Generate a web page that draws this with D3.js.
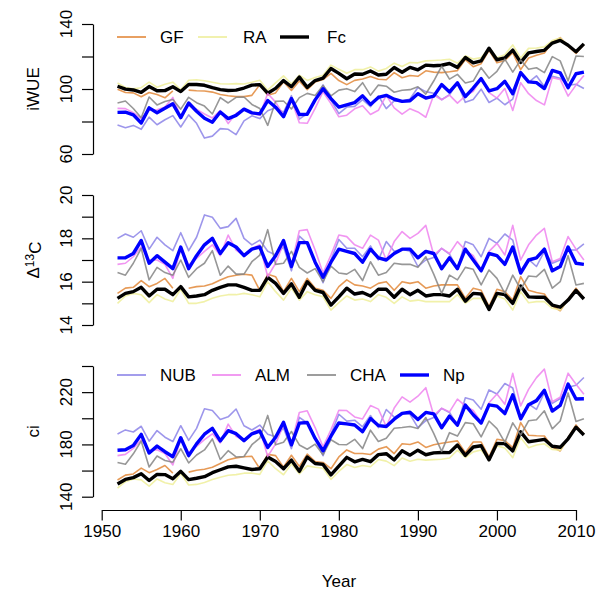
<!DOCTYPE html>
<html>
<head>
<meta charset="utf-8">
<script src="https://cdnjs.cloudflare.com/ajax/libs/d3/7.8.5/d3.min.js"></script>
<style>
  body { margin: 0; background: #fff; }
  text { font-family: "Liberation Sans", Arial, Helvetica, sans-serif; fill: #000; }
</style>
</head>
<body>
<div id="chart"></div>
<script>
// years 1952..2011
const years = d3.range(1952, 2012);

// --- iWUE ---
const iwueGF = [99.8,97.8,97.6,95.2,97.8,96.6,94.6,98.8,null,99.3,98.9,98.8,98.1,96.6,95.8,95.3,95.3,96.1,102.7,96.2,97.6,104.5,99.1,104.9,99.6,104.3,105.8,109.6,105.2,102.7,105.3,106.2,107.7,106.0,105.7,110.1,106.9,108.3,107.8,111.2,110.4,110.1,110.6,111.3,118.1,113.7,115.6,123.8,116.1,117.6,122.3,111.9,119.1,120.8,122.2,128.6,131.6,126.4,121.9,127.4];
const iwueRA = [103.7,100.9,100.1,100.8,104.2,101.1,102.9,104.2,99.5,105.4,105.7,105.1,104.1,103.2,103.1,103.3,103.1,104.1,105.4,99.3,103.8,108.1,103.2,108.5,105.3,107.1,108.5,114.7,112.1,109.7,111.9,111.9,113.6,111.0,112.6,115.9,113.8,116.3,116.1,117.3,117.5,117.8,118.3,115.8,120.4,118.4,119.3,125.4,119.2,121.1,127.1,119.1,125.0,125.2,125.9,129.8,131.3,126.9,122.9,127.4];
const iwueFc = [101.7,99.9,99.4,97.9,101.5,98.9,99.0,101.4,98.4,102.8,102.8,102.3,100.8,99.6,99.1,99.3,100.6,102.4,102.7,97.4,100.4,105.2,101.4,107.3,101.0,105.2,106.7,112.6,109.6,106.3,109.2,109.1,111.1,108.6,109.1,113.2,110.3,113.3,111.8,114.7,114.3,114.6,115.7,113.3,119.4,116.1,117.3,125.1,118.0,119.1,123.9,116.4,122.2,123.1,123.8,128.3,129.9,126.9,122.9,127.8];
const iwueNUB = [77.8,76.2,77.6,75.2,82.7,78.0,81.1,83.6,76.6,84.1,78.9,69.8,71.0,75.6,75.2,71.9,80.4,83.5,81.8,86.6,88.5,85.7,95.9,81.5,84.8,93.7,102.5,93.2,84.8,88.9,89.3,93.4,89.1,95.7,87.9,92.7,92.4,93.8,100.9,98.4,97.4,93.4,96.5,103.8,91.8,93.6,99.9,91.7,94.4,90.3,93.8,109.5,104.1,108.1,101.4,107.8,106.6,102.3,102.9,100.3];
const iwueALM = [88.1,87.9,85.4,81.7,87.1,87.2,88.9,94.8,82.9,89.9,87.5,84.6,82.2,86.7,78.7,85.0,87.6,84.9,83.8,97.2,91.9,84.1,93.4,79.2,78.9,88.1,98.3,91.0,82.9,83.9,87.8,89.7,84.3,86.9,96.1,88.4,84.5,87.9,85.9,82.6,96.3,93.4,96.2,91.3,95.7,98.6,106.1,97.8,94.4,100.3,86.8,103.9,97.1,92.9,90.2,107.0,105.9,95.6,102.4,108.3];
const iwueCHA = [91.4,92.6,88.0,82.3,95.1,90.2,92.3,93.5,87.6,94.9,91.6,89.5,84.6,94.7,91.4,94.9,95.1,90.5,88.0,77.6,92.4,92.6,87.7,94.7,97.3,96.0,102.1,95.8,99.3,100.2,98.4,103.9,96.1,102.4,101.7,98.0,99.2,99.6,101.4,96.9,104.9,114.0,106.1,109.0,103.7,104.9,113.1,106.6,110.9,118.4,110.4,117.9,112.1,113.1,110.1,119.9,117.3,105.0,120.3,120.0];
const iwueNp = [85.6,85.7,84.1,79.1,88.4,85.4,88.1,90.9,82.4,91.4,86.3,82.0,79.6,85.8,81.8,83.8,87.6,85.3,84.7,92.9,88.8,82.9,94.1,84.3,84.5,93.3,100.2,94.1,88.9,90.3,91.6,95.8,90.5,94.8,96.1,93.7,92.4,92.8,97.1,94.4,95.6,102.7,98.2,103.8,95.3,100.6,106.4,98.8,100.2,104.7,97.1,110.1,104.4,103.9,100.3,111.4,109.9,100.8,109.4,110.4];

// --- Delta 13C ---
const d13GF = [15.46,15.7,15.74,16.05,15.77,15.92,16.15,15.7,null,15.7,15.77,15.8,15.9,16.08,16.23,16.3,16.34,16.3,15.6,16.34,16.23,15.54,16.15,15.54,16.15,15.7,15.6,15.23,15.77,16.08,15.85,15.8,15.7,15.92,16.0,15.6,16.0,15.92,16.0,15.7,15.8,15.85,15.85,15.85,15.23,15.7,15.6,14.85,15.65,15.54,15.15,16.23,15.6,15.5,15.43,14.88,14.66,15.2,15.7,15.23];
const d13RA = [15.0,15.34,15.46,15.4,15.03,15.4,15.2,15.08,15.65,15.0,15.0,15.08,15.23,15.34,15.4,15.4,15.46,15.4,15.3,16.0,15.54,15.15,15.7,15.15,15.54,15.4,15.3,14.69,15.03,15.34,15.15,15.2,15.08,15.4,15.28,15.0,15.3,15.1,15.15,15.08,15.08,15.08,15.08,15.4,15.0,15.23,15.23,14.69,15.34,15.2,14.69,15.54,15.03,15.08,15.08,14.77,14.69,15.15,15.6,15.23];
const d13Fc = [15.23,15.46,15.54,15.74,15.34,15.65,15.65,15.4,15.77,15.3,15.34,15.4,15.6,15.74,15.85,15.85,15.74,15.6,15.6,16.2,15.92,15.46,15.9,15.28,16.0,15.6,15.5,14.92,15.3,15.7,15.43,15.5,15.34,15.65,15.65,15.28,15.65,15.4,15.6,15.34,15.4,15.4,15.34,15.65,15.1,15.46,15.43,14.72,15.46,15.4,15.0,15.8,15.3,15.28,15.28,14.92,14.82,15.15,15.6,15.2];
const d13NUB = [18.0,18.2,18.05,18.35,17.5,18.05,17.7,17.43,18.26,17.43,18.05,19.08,18.97,18.46,18.54,18.92,18.0,17.7,17.92,17.4,17.23,17.6,16.5,18.1,17.77,16.85,15.95,17.0,17.95,17.54,17.54,17.15,17.65,17.0,17.85,17.4,17.5,17.4,16.7,17.0,17.12,17.54,17.27,16.6,17.85,17.7,17.15,18.0,17.77,18.2,17.92,16.46,17.03,16.7,17.4,16.85,17.0,17.46,17.46,17.74];
const d13ALM = [16.8,16.85,17.15,17.6,17.0,17.0,16.8,16.15,17.54,16.77,17.07,17.4,17.7,17.2,18.15,17.46,17.2,17.54,17.7,16.23,16.85,17.77,16.77,18.35,18.4,17.46,16.4,17.23,18.15,18.08,17.7,17.54,18.15,17.92,17.0,17.85,18.31,18.0,18.23,18.6,17.23,17.54,17.3,17.85,17.46,17.2,16.54,17.4,17.77,17.23,18.6,17.0,17.7,18.15,18.46,16.92,17.07,18.08,17.5,17.0];
const d13CHA = [16.42,16.3,16.85,17.54,16.08,16.66,16.42,16.3,17.0,16.2,16.6,16.85,17.43,16.3,16.72,16.35,16.35,16.92,17.23,18.4,16.8,16.85,17.4,16.66,16.4,16.6,16.0,16.72,16.4,16.35,16.57,16.05,16.92,16.3,16.42,16.85,16.8,16.8,16.66,17.15,16.35,15.46,16.3,16.08,16.66,16.57,15.85,16.54,16.15,15.46,16.3,15.65,16.26,16.23,16.57,15.7,16.0,17.2,15.85,15.92];
const d13Np = [17.1,17.1,17.3,17.9,16.85,17.2,16.9,16.6,17.6,16.6,17.2,17.7,18.0,17.3,17.8,17.6,17.2,17.5,17.6,16.7,17.2,17.9,16.7,17.8,17.8,16.9,16.2,16.9,17.5,17.4,17.3,16.9,17.5,17.1,17.0,17.3,17.5,17.5,17.1,17.4,17.3,16.6,17.1,16.6,17.5,17.0,16.5,17.3,17.2,16.8,17.6,16.4,17.0,17.1,17.5,16.5,16.7,17.6,16.85,16.8];

// --- ci ---
const ciGF = [152.8,156.5,157.4,161.9,158.4,160.8,163.9,158.0,null,158.8,160.2,161.0,162.6,165.4,168.2,169.7,170.6,170.9,161.4,172.4,171.4,162.5,171.7,163.2,172.6,166.9,166.2,161.4,170.4,175.8,173.0,173.1,172.3,176.4,178.3,173.0,180.5,179.9,181.9,177.7,179.8,180.9,181.8,182.7,173.7,181.8,181.8,170.3,183.9,182.9,177.5,196.7,187.0,186.6,186.4,178.0,175.0,185.1,194.9,187.7];
const ciRA = [146.5,151.5,153.5,152.9,148.1,153.6,150.7,149.3,157.7,148.9,149.4,150.8,153.1,154.9,156.4,156.9,158.0,158.0,157.1,167.5,161.4,156.8,165.1,157.5,163.6,162.5,161.8,153.3,159.3,164.6,162.4,163.9,162.9,168.4,167.2,163.8,169.6,167.1,168.6,168.0,168.4,168.7,169.6,175.6,170.0,174.3,175.8,167.7,178.9,177.3,169.9,185.3,177.5,179.5,180.5,176.1,175.5,184.3,193.2,187.7];
const ciFc = [149.7,153.2,154.6,157.6,152.4,157.1,156.9,153.8,159.4,153.1,154.1,155.3,158.4,160.6,162.8,163.3,162.0,160.8,161.4,170.4,166.9,161.4,168.0,159.4,170.4,165.4,164.7,156.7,163.4,170.1,166.7,168.5,166.8,172.2,172.9,168.1,175.1,171.8,175.6,172.1,173.5,173.8,173.7,179.6,171.6,178.0,179.0,168.2,180.8,180.6,175.0,189.6,182.0,182.9,183.9,178.6,177.8,184.3,193.2,187.2];
const ciNUB = [188.0,191.1,189.5,193.9,182.5,190.6,185.5,182.2,194.3,183.1,192.3,207.3,206.0,199.1,201.1,207.1,194.3,191.0,194.8,187.7,185.9,192.6,176.8,200.7,196.4,183.9,171.4,187.7,203.1,197.8,198.5,193.5,202.1,192.9,206.7,200.9,203.8,203.1,192.9,198.2,200.6,207.6,204.4,194.7,215.7,214.0,206.9,221.7,218.6,226.6,223.2,200.6,210.9,206.8,219.7,211.4,215.0,223.8,225.3,231.2];
const ciALM = [171.4,172.4,177.0,183.5,175.5,175.9,173.0,164.3,184.2,173.8,178.5,183.6,188.1,181.2,195.5,186.2,182.9,188.7,191.7,170.8,180.4,195.1,180.7,204.4,205.7,192.9,178.1,191.2,206.1,205.9,201.0,199.5,209.7,207.0,193.7,207.8,216.4,212.4,216.9,223.4,202.3,207.6,204.9,214.7,209.5,206.0,197.0,211.9,218.6,210.7,234.4,209.5,222.1,231.1,237.6,212.6,216.1,234.5,226.0,218.4];
const ciCHA = [166.1,164.8,172.8,182.6,162.7,171.1,167.7,166.4,176.7,165.8,171.9,175.8,184.2,168.5,175.2,170.4,170.8,179.8,184.9,202.2,179.7,181.6,189.9,179.6,176.3,180.2,172.1,183.6,179.9,179.8,183.9,176.8,190.9,182.2,184.7,192.4,192.9,193.7,192.2,200.6,188.5,174.7,189.0,186.4,196.7,195.8,185.8,197.9,192.1,181.6,196.5,187.1,198.1,198.9,205.7,191.9,197.9,219.4,197.5,199.6];
const ciNp = [175.5,175.9,179.1,187.7,173.4,178.7,174.4,170.6,185.1,171.4,180.4,187.8,192.3,182.7,190.5,188.2,182.9,188.1,190.2,177.6,185.5,197.0,179.7,196.3,196.8,184.6,175.1,186.3,196.4,195.7,194.9,189.8,199.8,194.4,193.7,199.3,203.8,204.6,199.1,204.5,203.4,192.8,201.7,194.7,210.1,202.7,196.4,210.3,209.3,203.6,217.9,199.6,210.4,213.5,221.4,205.5,209.8,226.2,214.8,214.9];

const seriesNames = ["GF", "RA", "Fc", "NUB", "ALM", "CHA", "Np"];
const seriesColors = ["#e2883a", "#eeee9a", "#000000", "#8c84e8", "#ee82ee", "#858585", "#0000ff"];
const seriesWidths = [1.6, 1.6, 3.4, 1.6, 1.6, 1.6, 3.4];

const xTicks = [1950, 1960, 1970, 1980, 1990, 2000, 2010];

const panels = [
  { title: "iWUE", domain: [60, 140], range: [154, 24], ticks: [60, 80, 100, 120, 140], labels: [60, 100, 140],
    data: [iwueGF, iwueRA, iwueFc, iwueNUB, iwueALM, iwueCHA, iwueNp],
    legend: { y: 37, items: [0, 1, 2], lineX: [117, 198, 280], textX: [160, 243, 327] } },
  { title: "d13", domain: [14, 20], range: [325, 195], ticks: [14, 15, 16, 17, 18, 19, 20], labels: [14, 16, 18, 20],
    data: [d13GF, d13RA, d13Fc, d13NUB, d13ALM, d13CHA, d13Np] },
  { title: "ci", domain: [140, 240], range: [496.7, 366], ticks: [140, 160, 180, 200, 220, 240], labels: [140, 180, 220],
    data: [ciGF, ciRA, ciFc, ciNUB, ciALM, ciCHA, ciNp],
    legend: { y: 375, items: [3, 4, 5, 6], lineX: [117, 212, 307, 400], textX: [160, 255, 350, 443] } }
];

const W = 596, H = 592;
const fs = 17;

const svg = d3.select("#chart").append("svg")
  .attr("width", W)
  .attr("height", H);

const x = d3.scaleLinear().domain([1950, 2010]).range([101.7, 576]);

panels.forEach(function(p) {
  const y = d3.scaleLinear().domain(p.domain).range(p.range);
  const g = svg.append("g");

  // y axis
  const ax = g.append("g")
    .attr("transform", "translate(93,0)")
    .call(d3.axisLeft(y).tickValues(p.ticks).tickSize(11).tickSizeOuter(0).tickFormat(""));
  ax.select(".domain").attr("stroke", "#000").attr("stroke-width", 1.2);
  ax.selectAll(".tick line").attr("stroke", "#000").attr("stroke-width", 1.2);

  g.selectAll("text.ylab")
    .data(p.labels)
    .enter().append("text")
    .attr("class", "ylab")
    .attr("transform", d => "translate(66," + y(d) + ") rotate(-90)")
    .attr("text-anchor", "middle")
    .attr("dy", "0.35em")
    .style("font-size", fs + "px")
    .text(d => d);

  // axis title
  const midY = (p.range[0] + p.range[1]) / 2;
  const t = g.append("text")
    .attr("transform", "translate(33," + midY + ") rotate(-90)")
    .attr("text-anchor", "middle")
    .attr("dy", "0.35em")
    .style("font-size", fs + "px");
  if (p.title === "d13") {
    t.append("tspan").text("\u0394");
    t.append("tspan").attr("dy", "-0.45em").style("font-size", "12px").text("13");
    t.append("tspan").attr("dy", "0.45em").text("C");
  } else {
    t.text(p.title);
  }

  // series lines
  const line = d3.line()
    .defined(d => d[1] != null)
    .x(d => x(d[0]))
    .y(d => y(d[1]));

  p.data.forEach(function(vals, i) {
    g.append("path")
      .datum(years.map((yr, k) => [yr, vals[k]]))
      .attr("fill", "none")
      .attr("stroke", seriesColors[i])
      .attr("stroke-width", seriesWidths[i])
      .attr("stroke-linejoin", "round")
      .attr("stroke-opacity", i === 2 || i === 6 ? 1 : 0.85)
      .attr("d", line);
  });

  // legend
  if (p.legend) {
    const L = p.legend;
    L.items.forEach(function(si, j) {
      g.append("line")
        .attr("x1", L.lineX[j]).attr("x2", L.lineX[j] + 29)
        .attr("y1", L.y).attr("y2", L.y)
        .attr("stroke", seriesColors[si])
        .attr("stroke-width", seriesWidths[si]);
      g.append("text")
        .attr("x", L.textX[j]).attr("y", L.y)
        .attr("dy", "0.35em")
        .style("font-size", fs + "px")
        .text(seriesNames[si]);
    });
  }
});

// x axis
const xa = svg.append("g")
  .attr("transform", "translate(0,510)")
  .call(d3.axisBottom(x).tickValues(xTicks).tickSize(10.5).tickSizeOuter(0).tickFormat(d3.format("d")));
xa.select(".domain").attr("stroke", "#000").attr("stroke-width", 1.2);
xa.selectAll(".tick line").attr("stroke", "#000").attr("stroke-width", 1.2);
xa.selectAll(".tick text").style("font-size", fs + "px").attr("fill", "#000").attr("y", 15).attr("dy", "0.71em")
  .style("font-family", "'Liberation Sans', Arial, sans-serif");

svg.append("text")
  .attr("x", 339).attr("y", 581)
  .attr("text-anchor", "middle")
  .attr("dy", "0.35em")
  .style("font-size", fs + "px")
  .text("Year");
</script>
</body>
</html>
